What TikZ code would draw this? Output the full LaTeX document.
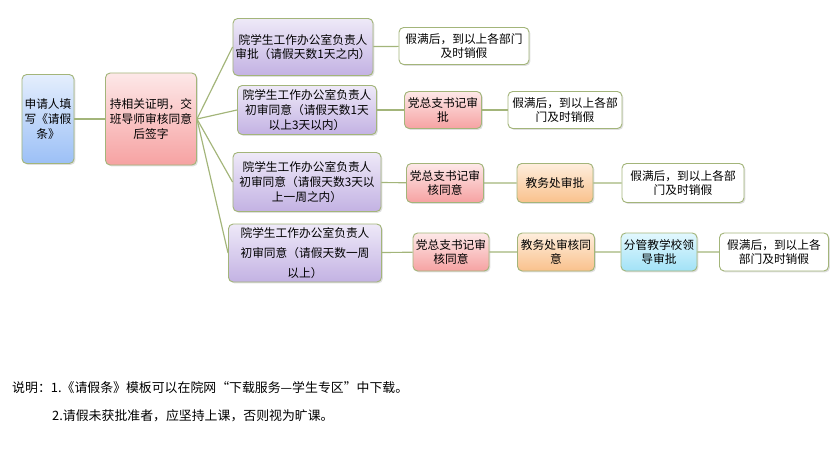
\documentclass[tikz,border=0pt]{standalone}
\usepackage{fontspec}
\setmainfont{Noto Sans CJK SC}
\usepackage{xcolor}
\usepackage{tikz}
\usetikzlibrary{calc}
\usetikzlibrary{shadows}
\definecolor{garishijau}{HTML}{A3B57A}
\definecolor{birutop}{HTML}{E4EEFD}
\definecolor{birubot}{HTML}{9CC0F6}
\definecolor{ungutop}{HTML}{EEE9F8}
\definecolor{ungubot}{HTML}{C3B2E3}
\definecolor{merahtop}{HTML}{FDE8E8}
\definecolor{merahbot}{HTML}{F6A2A2}
\definecolor{oranyetop}{HTML}{FEEEDD}
\definecolor{oranyebot}{HTML}{F9C18C}
\definecolor{langittop}{HTML}{E2F8FE}
\definecolor{langitbot}{HTML}{A2E2F7}
\tikzset{
    kotak/.style={draw=garishijau, line width=0.8pt, rounded corners=4pt, align=center,
        inner sep=1pt, font=\fontsize{10}{12.5}\selectfont,
        drop shadow={opacity=0.25, shadow xshift=1.2pt, shadow yshift=-1.2pt}},
    biru/.style={kotak, top color=birutop, bottom color=birubot},
    ungu/.style={kotak, top color=ungutop, bottom color=ungubot},
    merah/.style={kotak, top color=merahtop, bottom color=merahbot},
    oranye/.style={kotak, top color=oranyetop, bottom color=oranyebot},
    langit/.style={kotak, top color=langittop, bottom color=langitbot},
    putih/.style={kotak, fill=white},
    garis/.style={draw=garishijau, line width=1pt}
}
\begin{document}
\begin{tikzpicture}[x=0.03cm, y=-0.03cm]
        \useasboundingbox (0,0) rectangle (832,449);
        %KOORDINAT
        \coordinate (pA) at (48,119);
        \coordinate (pB) at (151,119);
        \coordinate (pC1) at (303,47);
        \coordinate (pC2) at (307,110);
        \coordinate (pC3) at (307,182);
        \coordinate (pC4) at (305,253);
        %KOTAK
        \node[biru, minimum width=1.56cm, minimum height=2.67cm] (A) at (pA) {申请人填\\写《请假\\条》};
        \node[merah, minimum width=2.73cm, minimum height=2.76cm] (B) at (pB) {持相关证明，交\\班导师审核同意\\后签字};
        \node[ungu, minimum width=4.2cm, minimum height=1.71cm] (C1) at (pC1) {院学生工作办公室负责人\\审批（请假天数1天之内）};
        \node[ungu, minimum width=4.17cm, minimum height=1.47cm] (C2) at (pC2) {院学生工作办公室负责人\\初审同意（请假天数1天\\以上3天以内）};
        \node[ungu, minimum width=4.44cm, minimum height=1.77cm] (C3) at (pC3) {院学生工作办公室负责人\\初审同意（请假天数3天以\\上一周之内）};
        \node[ungu, minimum width=4.59cm, minimum height=1.74cm, font=\fontsize{10}{17}\selectfont] (C4) at (pC4) {院学生工作办公室负责人\\初审同意（请假天数一周\\以上）};
        \node[putih, minimum width=3.9cm, minimum height=1.11cm] (D1) at (464,46) {假满后，到以上各部门\\及时销假};
        \node[merah, minimum width=2.31cm, minimum height=1.11cm] (E2) at (443,110) {党总支书记审\\批};
        \node[putih, minimum width=3.42cm, minimum height=1.11cm] (F2) at (565,110) {假满后，到以上各部\\门及时销假};
        \node[merah, minimum width=2.31cm, minimum height=1.17cm] (E3) at (445,183) {党总支书记审\\核同意};
        \node[oranye, minimum width=2.28cm, minimum height=1.17cm] (G3) at (555,183) {教务处审批};
        \node[putih, minimum width=3.66cm, minimum height=1.17cm] (F3) at (683,183) {假满后，到以上各部\\门及时销假};
        \node[merah, minimum width=2.28cm, minimum height=1.14cm] (E4) at (451,252) {党总支书记审\\核同意};
        \node[oranye, minimum width=2.31cm, minimum height=1.14cm] (G4) at (556,252) {教务处审核同\\意};
        \node[langit, minimum width=2.28cm, minimum height=1.14cm] (H4) at (659,252) {分管教学校领\\导审批};
        \node[putih, minimum width=3.27cm, minimum height=1.14cm] (F4) at (774,252) {假满后，到以上各\\部门及时销假};
        %GARIS
        \draw[garis] (A) -- (B);
        \foreach \c in {C1,C2,C3,C4}
            \draw[garis] (B.east) -- (\c.west);
        \draw[garis] (C1) -- (D1);
        \draw[garis] (C2) -- (E2) -- (F2);
        \draw[garis] (C3) -- (E3) -- (G3) -- (F3);
        \draw[garis] (C4) -- (E4) -- (G4) -- (H4) -- (F4);
        %KETERANGAN
        \node[anchor=west, inner sep=0pt, font=\fontsize{11}{13}\selectfont] (ket1) at (12,388) {说明：1.《请假条》模板可以在院网“下载服务—学生专区”中下载。};
        \node[anchor=west, inner sep=0pt, font=\fontsize{11}{13}\selectfont] (ket2) at (52,416) {2.请假未获批准者，应坚持上课，否则视为旷课。};
    \end{tikzpicture}
\end{document}
